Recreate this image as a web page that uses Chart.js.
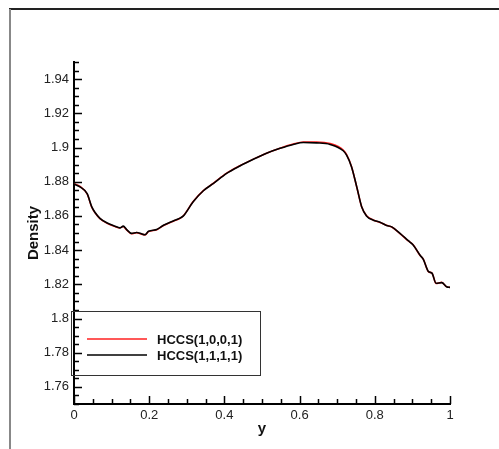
<!DOCTYPE html>
<html>
<head>
<meta charset="utf-8">
<script src="https://cdn.jsdelivr.net/npm/chart.js@4/dist/chart.umd.min.js"></script>
<style>
  html, body { margin: 0; padding: 0; background: #fff; }
  #wrap { width: 499px; height: 449px; }
</style>
</head>
<body>
<div id="wrap"><canvas id="chart" width="499" height="449"></canvas></div>
<script>
// 数据：y 位置与两组密度曲线
const yPos = [0, 0.016, 0.035, 0.047, 0.056, 0.069, 0.087, 0.109, 0.122, 0.131, 0.140, 0.153, 0.167, 0.176, 0.189, 0.198,
  0.220, 0.238, 0.264, 0.282, 0.291, 0.317, 0.344, 0.371, 0.406, 0.441, 0.477, 0.512, 0.548, 0.583, 0.610, 0.645,
  0.681, 0.716, 0.725, 0.738, 0.752, 0.765, 0.778, 0.796, 0.814, 0.831, 0.845, 0.867, 0.889, 0.902, 0.920, 0.929,
  0.943, 0.952, 0.963, 0.978, 0.991, 1.0];
const densityBlack = [1.8786, 1.877, 1.873, 1.8654, 1.862, 1.8586, 1.856, 1.854, 1.853, 1.854, 1.852, 1.8498, 1.8503, 1.8498, 1.849, 1.851,
  1.852, 1.8545, 1.857, 1.8587, 1.860, 1.8683, 1.8747, 1.879, 1.8849, 1.8892, 1.8931, 1.8966, 1.8995, 1.9018, 1.9029, 1.9027,
  1.9018, 1.8981, 1.8955, 1.8888, 1.877, 1.8654, 1.860, 1.8575, 1.8563, 1.8544, 1.8536, 1.8498, 1.8455, 1.843, 1.8371, 1.8346,
  1.8274, 1.8265, 1.8206, 1.821, 1.8186, 1.8182];
const densityRed = [1.8788, 1.8772, 1.8728, 1.8652, 1.8618, 1.8584, 1.8558, 1.8538, 1.853, 1.8538, 1.8518, 1.8496, 1.8502, 1.8496, 1.8489, 1.8508,
  1.8519, 1.8544, 1.8569, 1.8586, 1.8601, 1.8684, 1.8748, 1.8791, 1.885, 1.8893, 1.8932, 1.8967, 1.8996, 1.9020, 1.9032, 1.9032,
  1.9023, 1.8985, 1.8958, 1.8889, 1.8769, 1.8653, 1.8601, 1.8576, 1.8562, 1.8545, 1.8535, 1.8497, 1.8454, 1.8431, 1.8370, 1.8347,
  1.8273, 1.8266, 1.8205, 1.8211, 1.8185, 1.8182];
const seriesNames = ['HCCS(1,0,0,1)', 'HCCS(1,1,1,1)'];
const seriesColors = ['#ff2020', '#000000'];

// 坐标轴范围与刻度
const xRange = [0, 1];
const yRange = [1.75, 1.95];
const xMajor = [0, 0.2, 0.4, 0.6, 0.8, 1];
const yMajor = [1.76, 1.78, 1.8, 1.82, 1.84, 1.86, 1.88, 1.9, 1.92, 1.94];
const xMinorStep = 0.05;
const yMinorStep = 0.005;

const FONT = '"Liberation Sans", Arial, Helvetica, sans-serif';

function toPoints(xs, ys) {
  return xs.map((x, i) => ({ x: x, y: ys[i] }));
}

// 外框、内向刻度线、图例
const decorPlugin = {
  id: 'decor',
  afterDraw(chart) {
    const ctx = chart.ctx;
    const xs = chart.scales.x, ys = chart.scales.y;
    const area = chart.chartArea;
    ctx.save();
    // 外框
    ctx.fillStyle = '#222';
    ctx.fillRect(9, 8, 490, 2);
    ctx.fillStyle = '#888';
    ctx.fillRect(9, 9, 2, 440);

    // 刻度（朝内）
    ctx.strokeStyle = '#000';
    ctx.lineWidth = 1.5;
    ctx.beginPath();
    for (let v = xRange[0]; v <= xRange[1] + 1e-9; v += xMinorStep) {
      const isMajor = xMajor.some(m => Math.abs(m - v) < 1e-6);
      const px = Math.round(xs.getPixelForValue(v)) + 0.5;
      ctx.moveTo(px, area.bottom);
      ctx.lineTo(px, area.bottom - (isMajor ? 8 : 5));
    }
    for (let v = yRange[0]; v <= yRange[1] + 1e-9; v += yMinorStep) {
      const isMajor = yMajor.some(m => Math.abs(m - v) < 1e-6);
      const py = Math.round(ys.getPixelForValue(v)) + 0.5;
      ctx.moveTo(area.left, py);
      ctx.lineTo(area.left + (isMajor ? 8 : 5), py);
    }
    ctx.stroke();

    // 图例
    const bx = 71, by = 311, bw = 189, bh = 64;
    ctx.strokeStyle = '#333';
    ctx.lineWidth = 1;
    ctx.strokeRect(bx + 0.5, by + 0.5, bw, bh);
    ctx.font = 'bold 13px ' + FONT;
    ctx.textBaseline = 'middle';
    ctx.textAlign = 'left';
    chart.data.datasets.forEach((ds, i) => {
      const ly = 339 + i * 16;
      ctx.strokeStyle = ds.borderColor;
      ctx.lineWidth = 1.5;
      ctx.beginPath();
      ctx.moveTo(87, ly);
      ctx.lineTo(147, ly);
      ctx.stroke();
      ctx.fillStyle = '#111';
      ctx.fillText(ds.label, 157, ly + 1);
    });
    ctx.restore();
  }
};

const ctx = document.getElementById('chart').getContext('2d');
new Chart(ctx, {
  type: 'line',
  data: {
    datasets: [
      {
        label: seriesNames[0],
        data: toPoints(yPos, densityRed),
        borderColor: seriesColors[0],
        borderWidth: 1.6,
        pointRadius: 0,
        cubicInterpolationMode: 'monotone',
        order: 2
      },
      {
        label: seriesNames[1],
        data: toPoints(yPos, densityBlack),
        borderColor: seriesColors[1],
        borderWidth: 1.6,
        pointRadius: 0,
        cubicInterpolationMode: 'monotone',
        order: 1
      }
    ]
  },
  options: {
    responsive: false,
    animation: false,
    layout: { padding: { left: 0, top: 62, right: 49, bottom: 0 } },
    plugins: {
      legend: { display: false },
      tooltip: { enabled: false }
    },
    scales: {
      x: {
        type: 'linear',
        min: xRange[0],
        max: xRange[1],
        afterBuildTicks: s => { s.ticks = xMajor.map(v => ({ value: v })); },
        afterFit: s => { s.height = 45; },
        grid: { display: false, drawTicks: false },
        border: { display: true, color: '#000', width: 2 },
        ticks: {
          padding: 4,
          color: '#222',
          font: { family: FONT, size: 13 },
          maxRotation: 0,
          callback: v => String(Number(v.toFixed(2)))
        },
        title: {
          display: true,
          text: 'y',
          color: '#111',
          font: { family: FONT, size: 15, weight: 'bold' },
          padding: { top: 0, bottom: 11 }
        }
      },
      y: {
        type: 'linear',
        min: yRange[0],
        max: yRange[1],
        afterBuildTicks: s => { s.ticks = yMajor.map(v => ({ value: v })); },
        afterFit: s => { s.width = 74; },
        grid: { display: false, drawTicks: false },
        border: { display: true, color: '#000', width: 2 },
        ticks: {
          padding: 5,
          color: '#222',
          font: { family: FONT, size: 13 },
          callback: v => String(Number(v.toFixed(2)))
        },
        title: {
          display: true,
          text: 'Density',
          color: '#111',
          font: { family: FONT, size: 15, weight: 'bold' },
          padding: { top: 25, bottom: 0 }
        }
      }
    }
  },
  plugins: [decorPlugin]
});
</script>
</body>
</html>
